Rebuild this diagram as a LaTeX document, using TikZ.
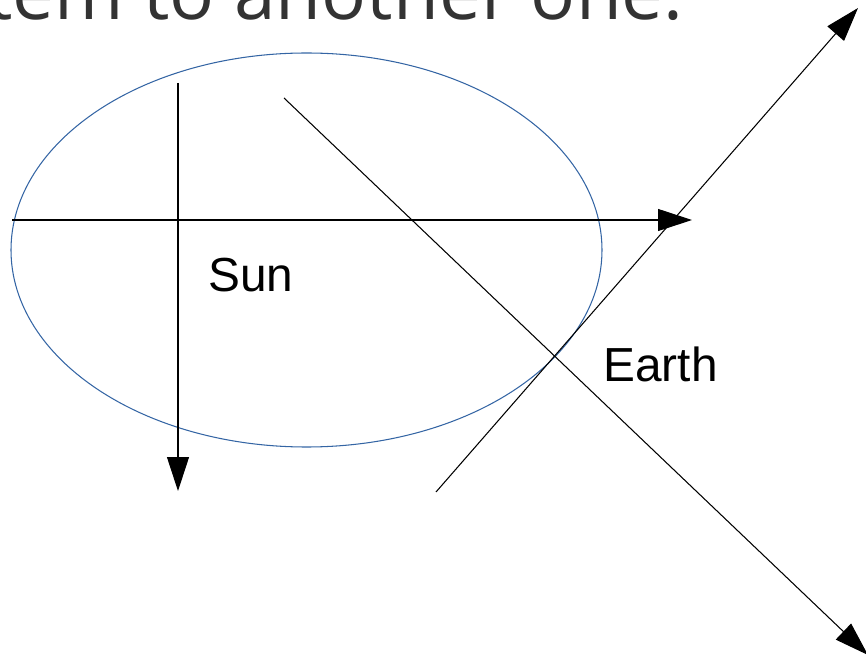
\documentclass[tikz,border=0pt]{standalone}
\usepackage{fontspec}
\usepackage{xcolor}
\usetikzlibrary{arrows.meta}
\newfontfamily\headfont{Open Sans}
\newfontfamily\bodyfont{Liberation Sans}
\definecolor{orbitblue}{HTML}{3465A4}
\definecolor{headgray}{HTML}{333333}

\begin{document}
\begin{tikzpicture}[
  x=0.02cm,
  y=-0.02cm,
  axis/.style={
    -{Triangle[length=0.68cm,width=0.44cm]},
    draw=black,
    line width=0.6pt
  },
  plainaxis/.style={
    draw=black,
    line width=0.6pt
  },
  orbit/.style={
    draw=orbitblue,
    line width=0.6pt
  },
  body/.style={
    inner sep=0pt,
    anchor=base west,
    font=\bodyfont\fontsize{27.2}{30}\selectfont
  },
  heading/.style={
    inner sep=0pt,
    anchor=base east,
    text=headgray,
    font=\headfont\fontsize{42.5}{48}\selectfont
  }
]

\useasboundingbox (0,0) rectangle (866,658);
\clip (0,0) rectangle (866,658);

% Cut-off heading line
\node[heading] (head) at (684,20) {tem to another one.};

% Orbit
\draw[orbit] (306.5,250) ellipse [x radius=295.5, y radius=197];

% Sun frame
\coordinate (sunxfrom) at (12,220);
\coordinate (sunxto)   at (692,220);
\coordinate (sunyfrom) at (178,83);
\coordinate (sunyto)   at (178,491);
\draw[axis] (sunxfrom) -- (sunxto);
\draw[axis] (sunyfrom) -- (sunyto);

% Earth frame
\coordinate (earthafrom) at (284,98);
\coordinate (earthato)   at (868,655);
\coordinate (earthbfrom) at (436,492);
\coordinate (earthbto)   at (858,8);
\draw[axis] (earthafrom) -- (earthato);
\draw[axis] (earthbfrom) -- (earthbto);

% Labels
\node[body] (sun)   at (208,292) {Sun};
\node[body] (earth) at (603,382) {Earth};

\end{tikzpicture}
\end{document}
